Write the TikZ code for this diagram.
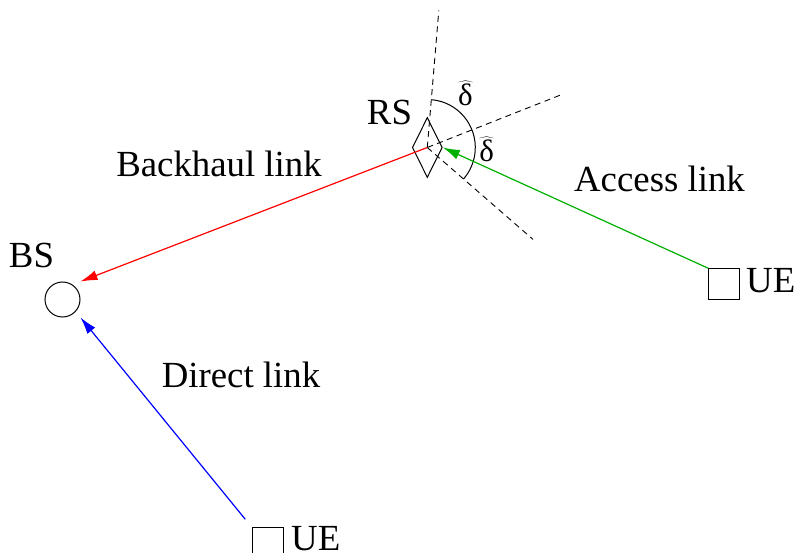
\documentclass[tikz,border=0pt]{standalone}
\usepackage{fontspec}
\setmainfont{Liberation Serif}
\usetikzlibrary{shapes.geometric,arrows.meta,calc}
\definecolor{linkgreen}{RGB}{0,176,0}
\begin{document}
\begin{tikzpicture}[x=1pt,y=1pt,
  lbl/.style={font=\fontsize{36.8}{40}\selectfont, inner sep=0, anchor=base},
  dlbl/.style={font=\fontsize{31}{34}\selectfont, inner sep=0, anchor=base},
  conn/.style={line width=1.2pt, -{Latex[length=17pt,width=10pt]}},
  dashline/.style={line width=0.9pt, dash pattern=on 6pt off 4.5pt},
  uebox/.style={draw, line width=1pt, minimum size=31pt, inner sep=0, anchor=north west},
]
\useasboundingbox (0,0) rectangle (798,-553);
% nodes
\node[draw, circle, minimum size=35pt, inner sep=0, line width=1pt] (BS) at (62.5,-299.5) {};
\node[draw, diamond, minimum width=30pt, minimum height=60pt, inner sep=0, line width=1pt] (RS) at (427.3,-147.5) {};
\node[uebox] (UE1) at (708.3,-268.3) {};
\node[uebox] (UE2) at (252.3,-527.3) {};
% helper coordinates
\coordinate (bsup) at (BS.north -| BS.east);
\coordinate (bslo) at (BS.south -| BS.east);
\coordinate (ue2s) at ($(UE2.north west)+(-7,8)$);
\coordinate (dA) at ($(RS.center)+(85.2:137.5)$);
\coordinate (dB) at ($(RS.center)+(21.5:146.5)$);
\coordinate (dC) at ($(RS.center)+(-41:140)$);
% dashed sector lines and angle arc
\draw[dashline] (RS.center) -- (dA);
\draw[dashline] (RS.center) -- (dB);
\draw[dashline] (RS.center) -- (dC);
\draw[line width=1pt] ($(RS.center)+(85.2:48)$) arc[start angle=85.2, end angle=-41, radius=48];
% links
\draw[conn, red] (RS.center) -- (bsup);
\draw[conn, linkgreen] (UE1.north west) -- (RS.east);
\draw[conn, blue] (ue2s) -- (bslo);
% labels
\node[lbl] (lRS) at (389.5,-125) {RS};
\node[lbl] (lBS) at (31.5,-268) {BS};
\node[lbl] (lBH) at (219,-176.7) {Backhaul link};
\node[lbl] (lAC) at (659.5,-191.7) {Access link};
\node[lbl] (lDL) at (241,-388) {Direct link};
\node[lbl, anchor=base west] (lUE1) at (746,-292.3) {UE};
\node[lbl, anchor=base west] (lUE2) at (291,-550) {UE};
\node[dlbl] (del1) at (465.5,-106) {$\widehat{\mbox{δ}}$};
\node[dlbl] (del2) at (486.7,-161.7) {$\widehat{\mbox{δ}}$};
\end{tikzpicture}
\end{document}
